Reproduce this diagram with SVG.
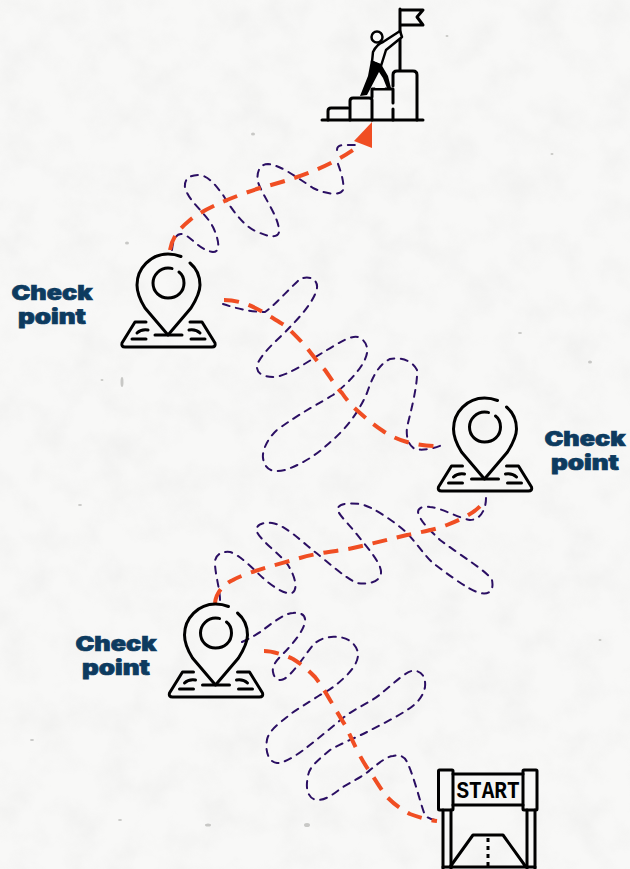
<svg xmlns="http://www.w3.org/2000/svg" width="630" height="869" viewBox="0 0 630 869">
<style>
.o{fill:none;stroke:#f04e23;stroke-width:4;stroke-dasharray:15 10;stroke-linejoin:round}
.p{fill:none;stroke:#2b0f63;stroke-width:2;stroke-dasharray:7 6.5;stroke-linecap:round;stroke-linejoin:round}
.k{fill:none;stroke:#000;stroke-width:3;stroke-linecap:round;stroke-linejoin:round}
.t{font-family:"Inter","Liberation Sans",sans-serif;font-weight:900;font-size:20.500px;fill:#0d3b5f;stroke:#0d3b5f;stroke-width:0.7;text-anchor:middle}
</style>
<defs>
<filter id="paper" x="0" y="0" width="100%" height="100%">
<feTurbulence type="fractalNoise" baseFrequency="0.03" numOctaves="5" seed="7"/>
<feColorMatrix type="matrix" values="0 0 0 0 0.4 0 0 0 0 0.4 0 0 0 0 0.39 0.7 0 0 0 -0.28"/>
</filter>
<g id="pin">
<path class="k" d="M181 256.500C176 254.500 172 254 168 254C151 254 137 268 137 285C137 293 140 300 145 308L168 335L191 308C196 300 200 293 200 285C200 276 196 268 190 263"/>
<path class="k" d="M179 272C183 275 184 279 184 283C184 292 177 298 168 298C160 298 153 292 153 283C153 275 160 268 168 268C170 268 171 268 172 268.500"/>
<path class="k" d="M146 322L135 322L122 343Q121 347 125 347L212 347Q216 347 215 343L202 322L190 322"/>
<path class="k" d="M155 335L182 335M132 339L146 339M191 339L205 339M137 333Q141 329 148 330M200 333Q196 329 189 330"/>
</g>
</defs>
<rect id="paper-base" width="630" height="869" fill="#f8f8f7"/>
<rect id="paper-grain" width="630" height="869" filter="url(#paper)" opacity="0.2"/>
<g id="specks" fill="#9a9a96" opacity="0.5">
<ellipse cx="127" cy="243" rx="2" ry="1.500"/><ellipse cx="253" cy="134" rx="2" ry="1.500"/><ellipse cx="122" cy="382" rx="1.500" ry="5"/><ellipse cx="590" cy="362" rx="2" ry="1.500"/><ellipse cx="102" cy="380" rx="1.500" ry="1"/><ellipse cx="208" cy="825" rx="3" ry="1.500"/><ellipse cx="307" cy="825" rx="3" ry="2"/><ellipse cx="552" cy="154" rx="1.500" ry="1"/><ellipse cx="447" cy="36" rx="1.500" ry="1"/><ellipse cx="32" cy="740" rx="2" ry="1"/><ellipse cx="600" cy="640" rx="1.500" ry="1"/><ellipse cx="80" cy="505" rx="2" ry="1"/><ellipse cx="520" cy="333" rx="2" ry="1"/><ellipse cx="120" cy="820" rx="2" ry="1"/>
</g>
<g id="connectors">
<path class="p" d="M172 250C173 240 176 234 181 234C190 234 198 250 213 252C221 252 219 240 213 227C205 212 190 203 185 188C184 178 190 175 200 175C210 177 216 186 223 195C232 210 245 228 258 232C270 238 280 238 279 230C278 215 262 195 258 182C256 172 260 164 268 164C280 165 295 176 313 188C325 194 340 196 343 190C345 180 338 165 336 158"/>
<path class="p" d="M337 150C337 146 340 145 346 145L360 145"/>
<path class="o" d="M170 250C172 238 178 230 190 220C205 208 235 196 260 188C290 180 325 170 356 148"/>
<path d="M372 122L354 141L372 148Z" fill="#f04e23"/>
<path class="p" d="M223 304C235 308 250 312 265 312C275 305 290 288 300 279C310 275 318 280 317 288C315 300 300 317 290 327C280 338 262 352 257 365C256 373 262 377 275 377C290 375 310 360 327 350C340 342 352 335 358 337C366 340 368 348 367 353C365 365 350 382 333 395C320 403 300 413 277 430C268 438 262 450 263 458C265 470 272 473 285 470C300 465 315 456 327 445C340 434 355 420 367 393C372 378 378 365 390 359C400 357 412 360 417 370C418 385 410 415 407 427C406 437 408 445 415 449C424 451 435 448 442 445"/>
<path class="o" d="M224 300C240 300 252 306 263 312C272 318 280 322 287 327C297 337 302 342 307 348C315 358 320 365 325 370C332 380 336 387 342 393C348 402 354 408 360 413C368 420 375 426 383 431C392 437 400 440 407 442C418 445 428 446 437 446"/>
<path class="p" d="M220 600C220 590 216 578 215 565C214 556 220 551 230 552C240 555 252 568 263 578C272 586 285 595 292 593C298 590 296 578 288 565C282 556 262 542 257 532C255 525 262 522 272 523C285 525 300 540 315 552C328 562 345 578 357 583C368 585 380 582 381 573C382 563 365 545 355 532C345 520 336 512 338 508C340 503 350 503 360 504C372 506 395 522 407 533C418 545 425 556 433 563C445 572 468 590 480 593C490 595 494 590 492 580C488 572 460 555 440 540C432 532 420 522 418 512C418 507 425 506 430 507C442 508 458 518 470 520C480 520 486 510 486 498"/>
<path class="o" d="M215 603C216 594 222 585 233 580C245 573 275 565 300 558C320 552 340 551 353 548C375 543 390 539 407 535C420 532 435 530 447 525C460 520 478 512 485 500"/>
<path class="p" d="M242 642C250 638 258 634 263 630C272 623 285 613 293 613C302 612 306 616 305 622C303 632 292 645 280 657C275 662 272 667 273 672C274 678 278 682 284 679C293 674 305 655 313 645C320 638 330 636 337 637C348 637 358 645 358 655C358 662 352 670 347 675C338 684 330 690 320 695C308 703 295 710 287 717C278 724 268 732 267 740C265 750 268 762 277 763C290 763 310 745 343 718C355 708 372 702 383 692C395 682 408 670 413 671C422 670 426 678 425 687C423 698 415 705 407 710C395 718 380 725 367 732C355 738 340 744 330 750C318 760 308 768 308 777C305 788 308 800 318 800C328 800 338 790 343 787C355 780 365 775 370 770C380 762 388 756 393 756C400 754 405 757 407 762C412 772 417 790 420 800C423 810 425 817 427 817C432 820 435 820 438 820"/>
<path class="o" stroke-dasharray="3.500 11 14 10 14 10 14 10 14 10 14 10 14 10 14 10" d="M264 651C272 651 285 655 293 659C303 665 310 672 315 677C322 686 326 693 330 700C336 710 340 717 345 725C350 735 353 742 357 750C362 760 367 768 372 775C378 784 382 791 387 797C395 805 402 810 410 814C418 817 428 820 437 821"/>
</g>
<g id="goal">
<path class="k" d="M322 120L423 120"/>
<path class="k" d="M328 120L328 111Q328 108 331 108L348 108"/>
<path class="k" d="M350 120L350 101Q350 98 353 98L369 98Q372 98 372 100L372 120"/>
<path class="k" d="M372 97L372 89L393 89L393 103M393 109L393 120"/>
<path class="k" d="M393 86L393 75Q393 71 397 71L413 71Q417 71 417 75L417 120"/>
<path class="k" d="M400 9L400 70M400 10L423 10L417 17L423 25L400 25"/>
<circle cx="377" cy="37" r="5.500" fill="#f8f8f7" stroke="#000" stroke-width="2.500"/>
<path fill="#f8f8f7" stroke="#000" stroke-width="2.500" stroke-linejoin="round" d="M373 52C376 46 380 43 383 42L400 31L402 37L386 50L381 66L372 62Z"/>
<path fill="#000" d="M371 60L381 64L388 76L391 88L387 88L383 78L379 72L367 95L360 96L368 76Z"/>
<path fill="#f8f8f7" d="M379 75L383 80L385 88L375 88Z"/>
</g>
<g id="start">
<rect class="k" x="438.500" y="770" width="14.500" height="40" rx="1"/>
<rect class="k" x="523" y="770" width="14" height="40" rx="1"/>
<path class="k" stroke-linecap="butt" stroke-width="3.500" d="M453 774L523 774M453 805L523 805"/>
<text x="488" y="798" font-family="'Liberation Mono',monospace" font-weight="700" font-size="24" textLength="63" lengthAdjust="spacingAndGlyphs" text-anchor="middle" fill="#000">START</text>
<path class="k" stroke-linecap="butt" d="M443 810L443 869M451 810L451 869M527 810L527 869M535 810L535 869"/>
<path class="k" stroke-linecap="butt" d="M450 867L473 835L503 835L526 867M443 867L535 867"/>
<path d="M488 838L488 867" fill="none" stroke="#000" stroke-width="3" stroke-dasharray="4 4"/>
</g>
<g id="checkpoint-1">
<use href="#pin"/>
<text class="t" x="52" y="300" textLength="81" lengthAdjust="spacingAndGlyphs">Check</text><text class="t" x="52" y="324" textLength="68" lengthAdjust="spacingAndGlyphs">point</text>
</g>
<g id="checkpoint-2">
<use href="#pin" x="316.500" y="144"/>
<text class="t" x="585" y="446" textLength="81" lengthAdjust="spacingAndGlyphs">Check</text><text class="t" x="585" y="470" textLength="68" lengthAdjust="spacingAndGlyphs">point</text>
</g>
<g id="checkpoint-3">
<use href="#pin" x="47.500" y="350"/>
<text class="t" x="116" y="651" textLength="81" lengthAdjust="spacingAndGlyphs">Check</text><text class="t" x="116" y="675" textLength="68" lengthAdjust="spacingAndGlyphs">point</text>
</g>
</svg>
